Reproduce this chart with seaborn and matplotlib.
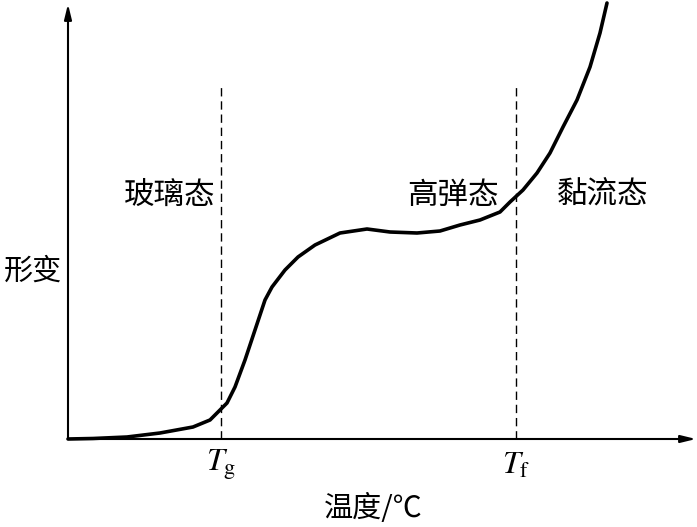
import matplotlib
matplotlib.use("Agg")
import matplotlib.pyplot as plt
import seaborn as sns
import pandas as pd

# ---- data ----
curve_x = [0, 25, 59, 92, 125, 142, 147, 154, 159, 167, 177, 187, 197, 204, 217,
           230, 247, 272, 299, 322, 349, 372, 392, 412, 432, 442, 455, 469, 482,
           495, 509, 522, 532, 539]
curve_y = [0, 0.5, 2, 6, 12, 19, 24, 31, 36, 52, 79, 109, 139, 152, 169,
           182, 194, 206, 210, 207, 206, 208, 214, 219, 227, 237, 249, 266, 286,
           312, 339, 372, 406, 436]
transition_x = [153, 448]
transition_top = 352
tick_labels = [r"$T_{\mathrm{g}}$", r"$T_{\mathrm{f}}$"]
region_labels = ["玻璃态", "高弹态", "黏流态"]
region_x = [102, 385, 535]
region_y = 244
y_label = "形变"
x_label = "温度/℃"

sns.set_style("white")
plt.rcParams["font.family"] = ["Noto Sans CJK SC", "DejaVu Sans"]
plt.rcParams["mathtext.fontset"] = "stix"

W, H = 697, 527
fig = plt.figure(figsize=(W / 100, H / 100), dpi=100)
ox, oy = 68, 439
ax = fig.add_axes([ox / W, (H - oy) / H, (W - ox) / W, oy / H])
ax.set_xlim(0, W - ox)
ax.set_ylim(0, oy)
for s in ax.spines.values():
    s.set_visible(False)
ax.set_xticks([])
ax.set_yticks([])

df = pd.DataFrame({"x": curve_x, "y": curve_y})
sns.lineplot(data=df, x="x", y="y", ax=ax, color="black", lw=2.6,
             sort=False, estimator=None, clip_on=False)
ax.lines[-1].set_solid_joinstyle("round")
ax.set_xlabel("")
ax.set_ylabel("")

for tx in transition_x:
    ax.plot([tx, tx], [0, transition_top], color="black", lw=1.0,
            dashes=(6, 3.5))

# axes with arrows
ax.annotate("", xy=(628, 0), xytext=(0, 0),
            arrowprops=dict(arrowstyle="-|>,head_length=0.9,head_width=0.22",
                            color="black", lw=1.5, shrinkA=0, shrinkB=0),
            annotation_clip=False)
ax.annotate("", xy=(0, 435), xytext=(0, 0),
            arrowprops=dict(arrowstyle="-|>,head_length=0.9,head_width=0.22",
                            color="black", lw=1.5, shrinkA=0, shrinkB=0),
            annotation_clip=False)

for tx, tl in zip(transition_x, tick_labels):
    ax.text(tx, -26, tl, ha="center", va="center", fontsize=23,
            color="black", clip_on=False)

for rx, rl in zip(region_x, region_labels):
    ax.text(rx, region_y, rl, ha="center", va="center", fontsize=22,
            color="black")

ax.text(-35, 167, y_label, ha="center", va="center", fontsize=21,
        color="black", clip_on=False)
ax.text(305, -70, x_label, ha="center", va="center", fontsize=21,
        color="black", clip_on=False)

fig.savefig("out.png", dpi=100)
